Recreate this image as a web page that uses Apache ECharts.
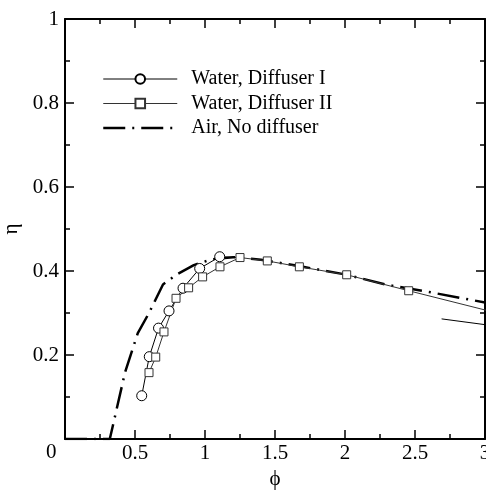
<!DOCTYPE html>
<html><head><meta charset="utf-8">
<script src="https://cdn.jsdelivr.net/npm/echarts@6/dist/echarts.min.js"></script>
<style>html,body{margin:0;padding:0;background:#fff}#c{width:486px;height:492px}</style>
</head><body><div id="c"></div>
<script>
// Data
const circleX = [0.548, 0.602, 0.668, 0.743, 0.843, 0.962, 1.105];
const circleY = [0.103, 0.196, 0.264, 0.305, 0.359, 0.406, 0.434];
const circleLinkX = [1.105, 1.25];
const circleLinkY = [0.434, 0.432];
const circleTailX = [2.69, 3.3];
const circleTailY = [0.286, 0.259];
const squareX = [0.600, 0.648, 0.707, 0.793, 0.883, 0.983, 1.107, 1.25, 1.445, 1.674, 2.012, 2.455, 3.3];
const squareY = [0.158, 0.195, 0.255, 0.335, 0.360, 0.386, 0.410, 0.432, 0.424, 0.410, 0.391, 0.353, 0.282];
const airX = [0, 0.32, 0.43, 0.52, 0.60, 0.70, 0.80, 0.92, 1.05, 1.20, 1.40, 1.70, 2.00, 2.30, 2.60, 3.00];
const airY = [0, 0, 0.16, 0.252, 0.300, 0.368, 0.392, 0.414, 0.428, 0.433, 0.427, 0.410, 0.392, 0.367, 0.350, 0.325];
const xTicks = [0, 0.5, 1, 1.5, 2, 2.5, 3];
const yTicks = [0, 0.2, 0.4, 0.6, 0.8, 1];
const names = ['Water, Diffuser I', 'Water, Diffuser II', 'Air, No diffuser'];

const pairs = (xs, ys) => xs.map((x, i) => [x, ys[i]]);
const FONT = 'Liberation Serif, Times New Roman, serif';
const chart = echarts.init(document.getElementById('c'));
const axisCommon = () => ({
  axisLine: {show: true, onZero: false, lineStyle: {color: '#000', width: 2}},
  axisTick: {show: true, inside: true, length: 9, lineStyle: {color: '#000', width: 1.5}},
  minorTick: {show: true, splitNumber: 2, length: 5, lineStyle: {color: '#000', width: 1.5}},
  splitLine: {show: false}
});
chart.setOption({
  animation: false,
  grid: {left: 65, right: 1, top: 19, bottom: 53, containLabel: false, outerBoundsMode: 'none'},
  legend: {
    orient: 'vertical', left: 102, top: 69, padding: 0,
    itemWidth: 74, itemHeight: 12, itemGap: 4.5,
    data: [
      {name: names[0], lineStyle: {width: 1}},
      {name: names[1], lineStyle: {width: 1}},
      {name: names[2], lineStyle: {width: 2.5}, itemStyle: {opacity: 0}}
    ],
    textStyle: {fontFamily: FONT, fontSize: 20, lineHeight: 20, color: '#000', padding: [0, 0, 0, 9]}
  },
  xAxis: [
    Object.assign({type: 'value', min: 0, max: 3, interval: 0.5, position: 'bottom',
      name: 'ϕ', nameLocation: 'middle', nameGap: 30,
      nameTextStyle: {fontFamily: FONT, fontSize: 21, color: '#000'},
      axisLabel: {fontFamily: FONT, fontSize: 21, color: '#000', margin: 4,
        formatter: v => (v === 0 || xTicks.indexOf(v) < 0) ? '' : String(v)}}, axisCommon()),
    Object.assign({type: 'value', min: 0, max: 3, interval: 0.5, position: 'top',
      axisLabel: {show: false}}, axisCommon())
  ],
  yAxis: [
    Object.assign({type: 'value', min: 0, max: 1, interval: 0.2, position: 'left',
      name: 'η', nameLocation: 'middle', nameGap: 43,
      nameTextStyle: {fontFamily: FONT, fontSize: 21, color: '#000'},
      axisLabel: {fontFamily: FONT, fontSize: 21, color: '#000', margin: 6,
        formatter: v => (v === 0 || yTicks.indexOf(Math.round(v * 10) / 10) < 0) ? '' : String(Math.round(v * 10) / 10)}}, axisCommon()),
    Object.assign({type: 'value', min: 0, max: 1, interval: 0.2, position: 'right',
      axisLabel: {show: false}}, axisCommon())
  ],
  series: [
    {name: names[0], type: 'line', data: pairs(circleX, circleY), symbol: 'circle', symbolSize: 10,
      itemStyle: {color: '#fff', borderColor: '#000', borderWidth: 1},
      lineStyle: {color: '#000', width: 1}, z: 3},
    {type: 'line', data: pairs(circleLinkX, circleLinkY), symbol: 'none',
      lineStyle: {color: '#000', width: 1}, z: 2},
    {type: 'line', data: pairs(circleTailX, circleTailY), symbol: 'none',
      lineStyle: {color: '#000', width: 1}, z: 2},
    {name: names[1], type: 'line', data: pairs(squareX, squareY), symbol: 'rect', symbolSize: 8,
      itemStyle: {color: '#fff', borderColor: '#333', borderWidth: 1},
      lineStyle: {color: '#333', width: 1}, z: 3},
    {name: names[2], type: 'line', data: pairs(airX, airY), symbol: 'none',
      itemStyle: {color: '#000'},
      lineStyle: {color: '#000', width: 2.5, type: [22, 7, 2, 7], cap: 'butt'}, z: 2}
  ]
});
const p0 = chart.convertToPixel({gridIndex: 0}, [0, 0]);
chart.setOption({graphic: [{type: 'text', left: p0[0] - 19, top: p0[1] + 3,
  style: {text: '0', font: '21px ' + FONT, fill: '#000'}}]});
</script></body></html>
